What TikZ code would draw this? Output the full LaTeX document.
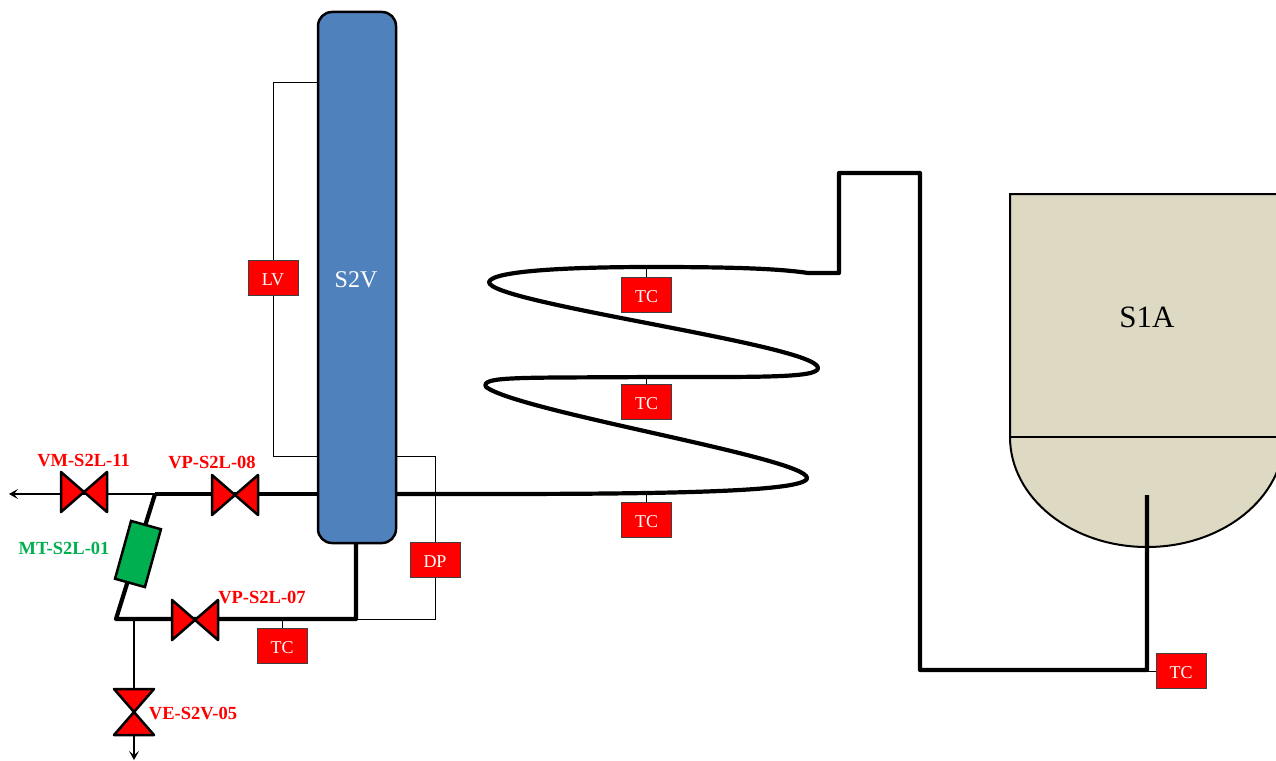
\documentclass[tikz,border=0pt]{standalone}
\usepackage{fontspec}
\setmainfont{Liberation Serif}
\usetikzlibrary{arrows.meta,calc}
\definecolor{vesselblue}{HTML}{4F81BD}
\definecolor{tankbeige}{HTML}{DDD9C3}
\definecolor{metergreen}{HTML}{00B050}
\tikzset{
  x=1pt,y=-1pt,
  pipe/.style={line width=4.2pt,line join=miter,line cap=butt},
  signal/.style={line width=1pt,draw=black},
  flow/.style={line width=1.3pt,-{Stealth[length=9pt,width=10pt,inset=4pt]}},
  ctrl/.style={draw=black!75,fill=red,line width=1pt,minimum width=50pt,minimum height=35pt,inner sep=0pt,text=white,font=\fontsize{18}{18}\selectfont,text height=15pt,text depth=0pt},
  tag/.style={text=red,font=\bfseries\fontsize{18.5}{19}\selectfont,inner sep=0pt},
  valvefill/.style={draw=black,fill=red,line width=2.5pt,line join=round},
  pics/hvalve/.style={code={\draw[valvefill] (-23,-20)--(23,20)--(23,-20)--(-23,20)--cycle;}},
  pics/vvalve/.style={code={\draw[valvefill] (-20,-23)--(20,-23)--(-20,23)--(20,23)--cycle;}}
}
\begin{document}
\begin{tikzpicture}
\useasboundingbox (0,0) rectangle (1276,760);
\fill[white] (0,0) rectangle (1276,760);
% junctions
\coordinate (jTop) at (155,494);
\coordinate (jBot) at (116,619);
\coordinate (jDrain) at (134,619);
\coordinate (jV) at (356,619);
\coordinate (outL) at (9,494);
\coordinate (outD) at (134,760);
% tank
\fill[tankbeige,draw=black,line width=2pt] (1290,194) -- (1010,194) -- (1010,437) arc[start angle=180,end angle=0,x radius=137,y radius=110] -- (1290,437) -- cycle;
\draw[line width=2pt] (1010,437) -- (1290,437);
\node[font=\fontsize{31}{31}\selectfont] (s1a) at (1147,317) {S1A};
% thin lines behind
\draw[flow] (jTop) -- (outL);
\draw[flow] (jDrain) -- (outD);
\draw[signal] (318,82) -- (273,82) -- (273,456) -- (318,456);
\draw[signal] (396,456) -- (435,456) -- (435,619) -- (jV);
% pipes
\draw[pipe,line join=round] (jTop) -- (318,494);
\draw[pipe,line join=round] (jTop) -- (jBot) -- (jV) -- (356,540);
\draw[pipe,line join=round] (396,494) -- (475,494)
  .. controls (640,494) and (807,493) .. (807,478)
  .. controls (807,458) and (520,412) .. (486,387)
  .. controls (480,376) and (520,378) .. (650,377)
  .. controls (760,377) and (818,378) .. (818,368)
  .. controls (818,345) and (488,303) .. (489,282)
  .. controls (492,270) and (580,267) .. (650,267)
  .. controls (720,267) and (775,268) .. (808,273)
  -- (839,273) -- (839,173) -- (920,173) -- (920,670) -- (1147,670) -- (1147,495);
% vessel
\node[draw=black,fill=vesselblue,line width=2.5pt,rounded corners=14pt,minimum width=78pt,minimum height=531pt,inner sep=0pt] (s2v) at (357,277.5) {};
\node[text=white,font=\fontsize{24}{24}\selectfont] (s2vl) at (356,280) {S2V};
% meter
\node[draw=black,fill=metergreen,line width=2.5pt,minimum width=31pt,minimum height=60pt,inner sep=0pt,rotate=-15.5] (mt) at (138,554) {};
\node[text=metergreen,font=\bfseries\fontsize{18.5}{19}\selectfont,inner sep=0pt] (mtl) at (64,548.5) {MT-S2L-01};
% valves
\pic at (84,492) {hvalve};
\pic at (235,495) {hvalve};
\pic at (195,620) {hvalve};
\pic at (134,712) {vvalve};
\node[tag] (l11) at (83.5,461) {VM-S2L-11};
\node[tag] (l08) at (212,462) {VP-S2L-08};
\node[tag] (l07) at (262,597) {VP-S2L-07};
\node[tag] (l05) at (193,713) {VE-S2V-05};
% control boxes
\draw[signal] (646,267) -- (646,295);
\draw[signal] (646,377) -- (646,402);
\draw[signal] (646,493) -- (646,520);
\draw[signal] (282,619) -- (282,646);
\draw[signal] (1147,671) -- (1181,671);
\node[ctrl] (tc1) at (646.5,295) {TC};
\node[ctrl] (tc2) at (646.5,402) {TC};
\node[ctrl] (tc3) at (646.5,520) {TC};
\node[ctrl] (tc4) at (282,646) {TC};
\node[ctrl] (tc5) at (1181,671) {TC};
\node[ctrl] (lv) at (273,278) {LV};
\node[ctrl] (dp) at (435,560) {DP};
\end{tikzpicture}
\end{document}
